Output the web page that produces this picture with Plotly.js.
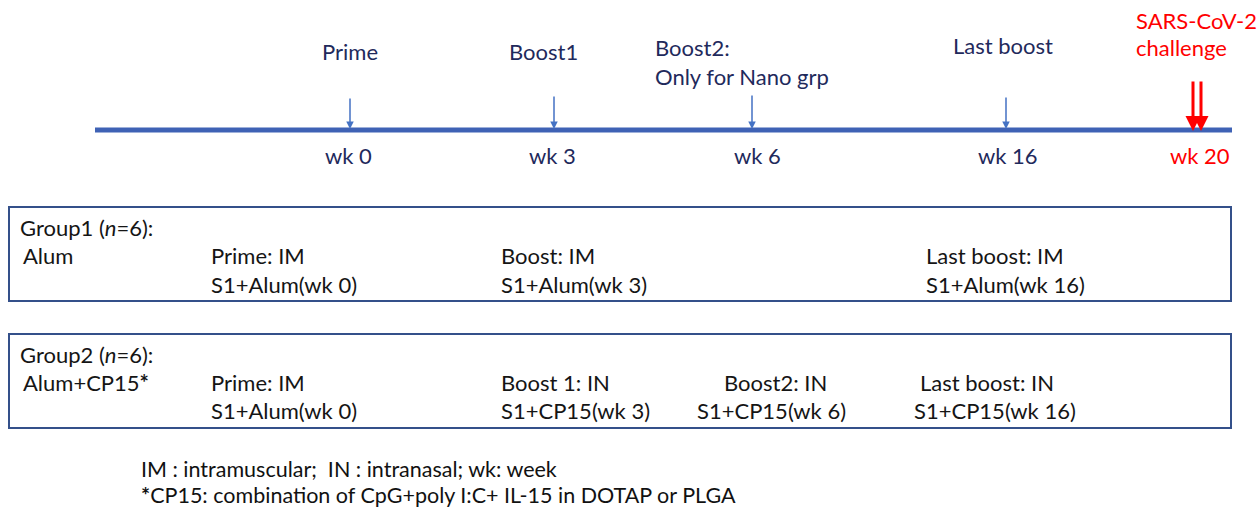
<!DOCTYPE html>
<html>
<head>
<meta charset="utf-8">
<script src="https://cdn.plot.ly/plotly-3.0.1.min.js"></script>
<style>html,body{margin:0;padding:0;background:#fff}#chart{width:1258px;height:509px}</style>
</head>
<body>
<div id="chart"></div>
<script>
// ---- Data ----
const weeks = [0, 3, 6, 16, 20];
const weekLabels = ['wk 0', 'wk 3', 'wk 6', 'wk 16', 'wk 20'];
const eventLabels = [['Prime'], ['Boost1'], ['Boost2:', 'Only for Nano grp'], ['Last boost'], ['SARS-CoV-2', 'challenge']];
const challengeWeek = 20;

const group1Title = ['Group1 (<i>n</i>=6):', 'Alum'];
const group1Steps = [['Prime: IM', 'S1+Alum(wk 0)'], ['Boost: IM', 'S1+Alum(wk 3)'], ['Last boost: IM', 'S1+Alum(wk 16)']];
const group2Title = ['Group2 (<i>n</i>=6):', 'Alum+CP15<b>*</b>'];
const group2Steps = [['Prime: IM', 'S1+Alum(wk 0)'], ['Boost 1: IN', 'S1+CP15(wk 3)'], ['Boost2: IN', 'S1+CP15(wk 6)'], ['Last boost: IN', 'S1+CP15(wk 16)']];

const footnotes = ['IM : intramuscular;&nbsp;&nbsp;IN : intranasal; wk: week', '<b>*</b>CP15: combination of CpG+poly I:C+ IL-15 in DOTAP or PLGA'];

// ---- Layout (schematic positions) ----
const weekX = [350, 554, 752, 1006, 1197];
const FONT = 'Lato, "Liberation Sans", sans-serif';
const FS = 22;
const NAVY = '#1f2a5c';
const TXT = '#151515';
const RED = '#ff0000';
const LINEBLUE = '#3f62b5';
const ARROWBLUE = '#4472c4';
const BOX = '#34508a';

const annotations = [];
const shapes = [];

function txt(x, y, text, opts) {
  opts = opts || {};
  annotations.push({
    x: x, y: y, xref: 'x', yref: 'y', text: text, showarrow: false,
    xanchor: opts.xanchor || 'left', yanchor: 'middle',
    font: {family: FONT, size: opts.size || FS, color: opts.color || TXT}
  });
}
function arrow(x, y0, y1, color, width, head) {
  annotations.push({
    x: x, y: y1, ax: x, ay: y0, xref: 'x', yref: 'y', axref: 'x', ayref: 'y',
    text: '', showarrow: true, arrowhead: head, arrowsize: 1, arrowwidth: width, arrowcolor: color,
    standoff: 0, startstandoff: 0
  });
}

// Timeline
shapes.push({type: 'line', xref: 'x', yref: 'y', x0: 95, x1: 1232, y0: 130, y1: 130, line: {color: LINEBLUE, width: 5}});

// Event labels
const evX = [350, 543, 653, 1003, 1134];
const evY = [[51], [51], [47, 76], [45], [20, 47]];
const evAnchor = ['center', 'center', 'left', 'center', 'left'];
eventLabels.forEach((lines, i) => {
  const isRed = weeks[i] === challengeWeek;
  lines.forEach((t, j) => txt(evX[i], evY[i][j], t, {xanchor: evAnchor[i], color: isRed ? RED : NAVY}));
});

// Arrows
const arrowTop = [97, 95, 94, 96];
weeks.forEach((w, i) => {
  if (w === challengeWeek) {
    arrow(weekX[i] - 4, 80, 131, RED, 3, 2);
    arrow(weekX[i] + 4, 80, 131, RED, 3, 2);
  } else {
    arrow(weekX[i], arrowTop[i], 129, ARROWBLUE, 1.5, 2);
  }
});

// Week labels
const wkX = [348, 552, 757, 1008, 1200];
weekLabels.forEach((t, i) => txt(wkX[i], 155, t, {xanchor: 'center', color: weeks[i] === challengeWeek ? RED : NAVY}));

// Boxes
shapes.push({type: 'rect', xref: 'x', yref: 'y', x0: 9, x1: 1231, y0: 207, y1: 301, line: {color: BOX, width: 2}});
shapes.push({type: 'rect', xref: 'x', yref: 'y', x0: 9, x1: 1231, y0: 334, y1: 428, line: {color: BOX, width: 2}});

// Group 1
txt(18, 227, group1Title[0]);
txt(21, 255, group1Title[1]);
const g1X = [209, 499, 924];
group1Steps.forEach((s, i) => { txt(g1X[i], 255, s[0]); txt(g1X[i], 284, s[1]); });

// Group 2
txt(18, 354, group2Title[0]);
txt(21, 382, group2Title[1]);
const g2X1 = [209, 499, 722, 918];
const g2X2 = [209, 499, 695, 912];
group2Steps.forEach((s, i) => { txt(g2X1[i], 382, s[0]); txt(g2X2[i], 410, s[1]); });

// Footnotes
txt(139, 469, footnotes[0], {size: 21.5, color: '#111'});
txt(139, 495, footnotes[1], {size: 21.5, color: '#111'});

const layout = {
  width: 1258, height: 509,
  margin: {l: 0, r: 0, t: 0, b: 0},
  paper_bgcolor: '#fff', plot_bgcolor: '#fff',
  xaxis: {range: [0, 1258], visible: false, fixedrange: true},
  yaxis: {range: [509, 0], visible: false, fixedrange: true},
  showlegend: false,
  annotations: annotations,
  shapes: shapes
};

Plotly.newPlot('chart', [{x: [], y: [], type: 'scatter'}], layout, {displayModeBar: false, staticPlot: true});
</script>
</body>
</html>
